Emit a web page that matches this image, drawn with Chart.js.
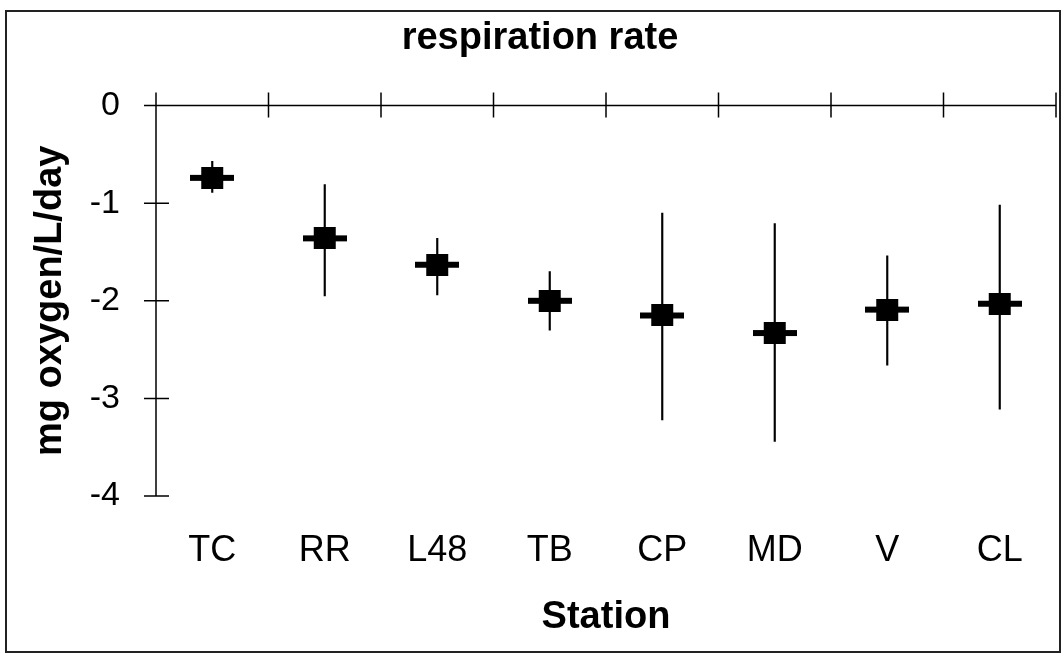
<!DOCTYPE html>
<html lang="en">
<head>
    <meta charset="UTF-8">
    <title>respiration rate</title>
    <script src="https://cdn.jsdelivr.net/npm/chart.js@4.4.1/dist/chart.umd.min.js"></script>
    <style>
        body { margin: 0; background: #fff; }
        canvas { display: block; }
    </style>
</head>
<body>

    <canvas id="graph" width="1064" height="654"></canvas>
    <script>
        // stations and respiration rates (mg oxygen/L/day)
        const stations = ['TC', 'RR', 'L48', 'TB', 'CP', 'MD', 'V', 'CL'];
        const meanRate = [-0.74, -1.36, -1.63, -2.00, -2.15, -2.33, -2.09, -2.03];
        const lowRate  = [-0.89, -1.95, -1.94, -2.30, -3.22, -3.44, -2.66, -3.11];
        const highRate = [-0.57, -0.81, -1.36, -1.70, -1.10, -1.21, -1.54, -1.02];
        const yTicks = [0, -1, -2, -3, -4];

        const FONT = '"Liberation Sans", Arial, sans-serif';

        // error bars as thin floating bars from low to high
        const ranges = lowRate.map((lo, i) => [lo, highRate[i]]);

        // marker: filled square with a horizontal dash through it
        const marker = document.createElement('canvas');
        marker.width = 44;
        marker.height = 22;
        const mctx = marker.getContext('2d');
        mctx.fillStyle = '#000';
        mctx.fillRect(11, 0, 22, 22);
        mctx.fillRect(0, 8, 44, 6);

        // frame round the whole figure
        const frame = {
            id: 'frame',
            beforeDraw(chart) {
                const c = chart.ctx;
                c.save();
                c.strokeStyle = '#222';
                c.lineWidth = 2;
                c.strokeRect(6, 11, 1054, 641);
                c.restore();
            }
        };

        // axis lines with ticks crossing them, x axis sits at y = 0
        const crossAxes = {
            id: 'crossAxes',
            afterDatasetsDraw(chart) {
                const c = chart.ctx;
                const x = chart.scales.x, y = chart.scales.y;
                const y0 = y.getPixelForValue(0);
                const xLeft = x.left, xRight = x.right;
                c.save();
                c.strokeStyle = '#000';
                c.lineWidth = 1.5;
                c.beginPath();
                c.moveTo(xLeft, y.getPixelForValue(-4));
                c.lineTo(xLeft, y0);
                c.moveTo(xLeft, y0);
                c.lineTo(xRight, y0);
                yTicks.forEach(v => {
                    const py = y.getPixelForValue(v);
                    c.moveTo(xLeft - 12, py);
                    c.lineTo(xLeft + 13, py);
                });
                for (let i = 0; i <= stations.length; i++) {
                    const px = x.getPixelForDecimal(i / stations.length);
                    c.moveTo(px, y0 - 13);
                    c.lineTo(px, y0 + 12);
                }
                c.stroke();
                c.restore();
            }
        };

        const ctx = document.getElementById('graph').getContext('2d');
        const myChart = new Chart(ctx, {
            type: 'bar',
            data: {
                labels: stations,
                datasets: [
                    {
                        type: 'line',
                        label: 'mean',
                        data: meanRate,
                        showLine: false,
                        pointStyle: marker,
                        pointRadius: 1,
                        pointBorderWidth: 0,
                        borderColor: '#000',
                        backgroundColor: '#000',
                        clip: false,
                        order: 0
                    },
                    {
                        type: 'bar',
                        label: 'range',
                        data: ranges,
                        backgroundColor: '#000',
                        borderWidth: 0,
                        barThickness: 1.5,
                        order: 1
                    }
                ]
            },
            options: {
                responsive: false,
                animation: false,
                layout: { padding: { left: 24, right: 8, top: 0, bottom: 0 } },
                plugins: {
                    legend: { display: false },
                    tooltip: { enabled: false },
                    title: {
                        display: true,
                        text: 'respiration rate',
                        color: '#000',
                        font: { family: FONT, size: 38, weight: 'bold', lineHeight: 1.2 },
                        padding: { top: 16, bottom: 44 }
                    }
                },
                scales: {
                    x: {
                        type: 'category',
                        offset: true,
                        grid: { display: false, drawTicks: false },
                        border: { display: false },
                        ticks: {
                            color: '#000',
                            padding: 33,
                            font: { family: FONT, size: 36 }
                        },
                        title: {
                            display: true,
                            text: 'Station',
                            color: '#000',
                            font: { family: FONT, size: 38, weight: 'bold', lineHeight: 1.2 },
                            padding: { top: 0, bottom: 14 }
                        },
                        afterFit(scale) { scale.height = 158; }
                    },
                    y: {
                        min: -4,
                        max: 0,
                        afterBuildTicks(scale) {
                            scale.ticks = yTicks.map(v => ({ value: v }));
                        },
                        grid: { display: false, drawTicks: false },
                        border: { display: false },
                        ticks: {
                            color: '#000',
                            padding: 36,
                            font: { family: FONT, size: 34 }
                        },
                        title: {
                            display: true,
                            text: 'mg oxygen/L/day',
                            color: '#000',
                            font: { family: FONT, size: 38, weight: 'bold', lineHeight: 1.2 },
                            padding: { top: 4, bottom: 0 }
                        },
                        afterFit(scale) { scale.width = 132; }
                    }
                }
            },
            plugins: [frame, crossAxes]
        });
    </script>

</body>
</html>
